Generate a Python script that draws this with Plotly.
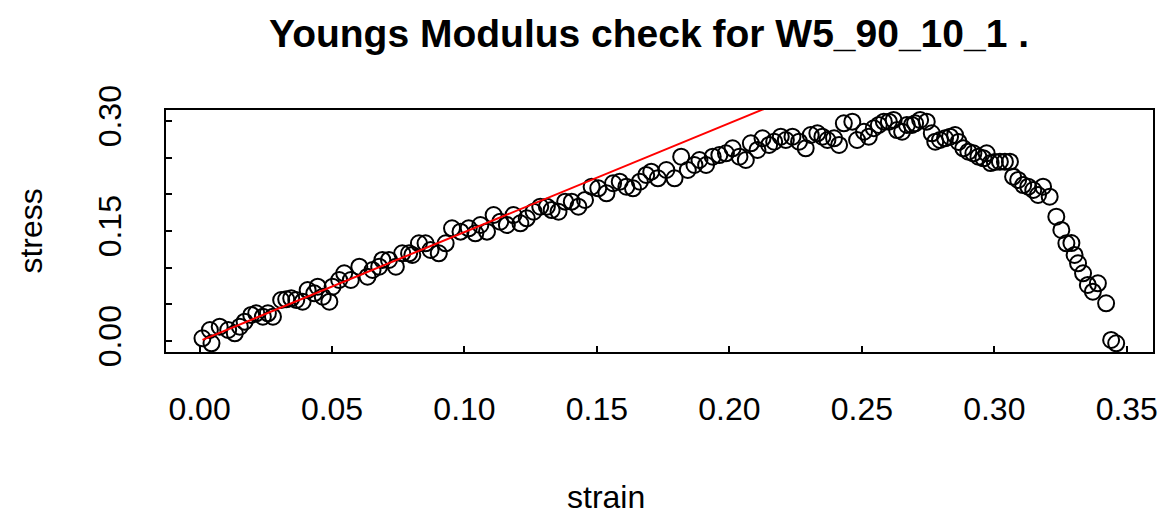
import plotly.graph_objects as go

# strain / stress
strain = [
    0.0011, 0.0045, 0.0039, 0.0076, 0.0108, 0.0133, 0.0152, 0.0170, 0.0195, 0.0214,
    0.0239, 0.0258, 0.0277, 0.0308, 0.0327, 0.0346, 0.0365, 0.0389, 0.0408, 0.0433,
    0.0446, 0.0465, 0.0490, 0.0502, 0.0527, 0.0546, 0.0571, 0.0603, 0.0634, 0.0653,
    0.0678, 0.0690, 0.0715, 0.0741, 0.0765, 0.0791, 0.0803, 0.0828, 0.0853, 0.0872,
    0.0903, 0.0929, 0.0953, 0.0985, 0.1016, 0.1041, 0.1060, 0.1085, 0.1110, 0.1135,
    0.1160, 0.1185, 0.1211, 0.1235, 0.1261, 0.1286, 0.1311, 0.1329, 0.1355, 0.1380,
    0.1405, 0.1430, 0.1455, 0.1480, 0.1505, 0.1536, 0.1561, 0.1586, 0.1611, 0.1636,
    0.1662, 0.1686, 0.1705, 0.1730, 0.1762, 0.1793, 0.1818, 0.1843, 0.1868, 0.1887,
    0.1912, 0.1937, 0.1962, 0.1987, 0.2012, 0.2038, 0.2062, 0.2081, 0.2106, 0.2125,
    0.2150, 0.2169, 0.2194, 0.2213, 0.2238, 0.2263, 0.2288, 0.2307, 0.2332, 0.2351,
    0.2370, 0.2395, 0.2414, 0.2432, 0.2464, 0.2482, 0.2508, 0.2526, 0.2545, 0.2564,
    0.2583, 0.2602, 0.2620, 0.2633, 0.2652, 0.2670, 0.2689, 0.2701, 0.2720, 0.2745,
    0.2764, 0.2777, 0.2795, 0.2814, 0.2833, 0.2852, 0.2865, 0.2883, 0.2902, 0.2921,
    0.2940, 0.2959, 0.2971, 0.2986, 0.3002, 0.3021, 0.3040, 0.3059, 0.3071, 0.3090,
    0.3109, 0.3128, 0.3147, 0.3165, 0.3184, 0.3209, 0.3234, 0.3253, 0.3272, 0.3291,
    0.3303, 0.3316, 0.3335, 0.3353, 0.3372, 0.3391, 0.3422, 0.3441, 0.3460,
]
stress = [
    0.0037, -0.0031, 0.0150, 0.0195, 0.0150, 0.0105, 0.0195, 0.0263, 0.0355, 0.0378,
    0.0331, 0.0378, 0.0331, 0.0559, 0.0569, 0.0582, 0.0559, 0.0536, 0.0695, 0.0650,
    0.0740, 0.0604, 0.0536, 0.0740, 0.0832, 0.0923, 0.0832, 0.1013, 0.0877, 0.0968,
    0.1013, 0.1105, 0.1105, 0.1013, 0.1196, 0.1196, 0.1173, 0.1332, 0.1332, 0.1241,
    0.1196, 0.1332, 0.1537, 0.1491, 0.1537, 0.1469, 0.1582, 0.1491, 0.1718, 0.1627,
    0.1582, 0.1718, 0.1605, 0.1673, 0.1763, 0.1831, 0.1831, 0.1786, 0.1763, 0.1900,
    0.1900, 0.1831, 0.1923, 0.2104, 0.2082, 0.2014, 0.2151, 0.2172, 0.2104, 0.2082,
    0.2172, 0.2264, 0.2309, 0.2219, 0.2332, 0.2219, 0.2513, 0.2332, 0.2400, 0.2468,
    0.2400, 0.2513, 0.2536, 0.2560, 0.2628, 0.2513, 0.2468, 0.2696, 0.2605, 0.2764,
    0.2673, 0.2718, 0.2786, 0.2741, 0.2786, 0.2718, 0.2628, 0.2809, 0.2832, 0.2786,
    0.2741, 0.2764, 0.2673, 0.2969, 0.2991, 0.2741, 0.2854, 0.2786, 0.2901, 0.2946,
    0.2991, 0.2991, 0.3014, 0.2877, 0.2854, 0.2946, 0.2946, 0.2969, 0.3014, 0.2991,
    0.2832, 0.2718, 0.2741, 0.2764, 0.2786, 0.2809, 0.2714, 0.2628, 0.2581, 0.2560,
    0.2513, 0.2491, 0.2560, 0.2427, 0.2441, 0.2445, 0.2445, 0.2445, 0.2241, 0.2196,
    0.2127, 0.2104, 0.2059, 0.1991, 0.2104, 0.1968, 0.1695, 0.1514, 0.1332, 0.1336,
    0.1173, 0.1060, 0.0923, 0.0764, 0.0672, 0.0787, 0.0514, 0.0014, -0.0031,
]

# fitted Young's modulus line (slope, intercept)
modulus = 1.485
intercept = 0.0
fit_x = [min(strain), max(strain)]
fit_y = [intercept + modulus * v for v in fit_x]

x_ticks = [0.00, 0.05, 0.10, 0.15, 0.20, 0.25, 0.30, 0.35]
x_tick_text = ["0.00", "0.05", "0.10", "0.15", "0.20", "0.25", "0.30", "0.35"]
y_ticks = [0.00, 0.05, 0.10, 0.15, 0.20, 0.25, 0.30]
y_tick_text = ["0.00", "", "", "0.15", "", "", "0.30"]

title_text = "<b>Youngs Modulus check for W5_90_10_1 .</b>"

FONT = "Liberation Sans, Arial, sans-serif"

fig = go.Figure()
fig.add_trace(go.Scatter(
    x=strain, y=stress, mode="markers",
    marker=dict(symbol="circle-open", size=16, color="black",
                line=dict(width=2, color="black")),
    showlegend=False, hoverinfo="x+y",
))
fig.add_trace(go.Scatter(
    x=fit_x, y=fit_y, mode="lines",
    line=dict(color="#FF0000", width=2),
    showlegend=False,
))

W, H = 1170, 516
L, R, T, B = 166, 13, 110, 164
pw, ph = W - L - R, H - T - B

fig.update_layout(
    width=W, height=H,
    margin=dict(l=L, r=R, t=T, b=B, pad=0),
    paper_bgcolor="white", plot_bgcolor="white",
    font=dict(family=FONT, size=32, color="black"),
    title=dict(text=title_text, font=dict(size=39, family=FONT, color="black"),
               x=(651 - L) / pw, xref="paper", xanchor="center",
               y=1 - 33 / H, yref="container", yanchor="middle"),
    showlegend=False,
)
fig.update_xaxes(
    range=[-0.01267, 0.3599], tickmode="array", tickvals=x_ticks, ticktext=x_tick_text,
    ticks="inside", ticklen=6, tickwidth=1.5, tickcolor="black",
    showline=True, linecolor="black", linewidth=2, mirror=True,
    showgrid=False, zeroline=False, ticklabelstandoff=28,
    tickfont=dict(size=32, family=FONT, color="black"),
)
fig.update_yaxes(
    range=[-0.015, 0.315], tickmode="array", tickvals=y_ticks, ticktext=y_tick_text,
    ticks="inside", ticklen=6, tickwidth=1.5, tickcolor="black",
    showline=True, linecolor="black", linewidth=2, mirror=True,
    showgrid=False, zeroline=False, tickangle=-90, ticklabelstandoff=30,
    tickfont=dict(size=32, family=FONT, color="black"),
)
fig.add_annotation(text="strain", xref="paper", yref="paper",
                   x=(608 - L) / pw, y=(352 - 497) / ph, xanchor="center", yanchor="middle",
                   showarrow=False, font=dict(size=32, family=FONT, color="black"))
fig.add_annotation(text="stress", xref="paper", yref="paper",
                   x=(30 - L) / pw, y=0.5, xanchor="center", yanchor="middle",
                   textangle=-90, showarrow=False,
                   font=dict(size=32, family=FONT, color="black"))

fig.write_html("out.html")
